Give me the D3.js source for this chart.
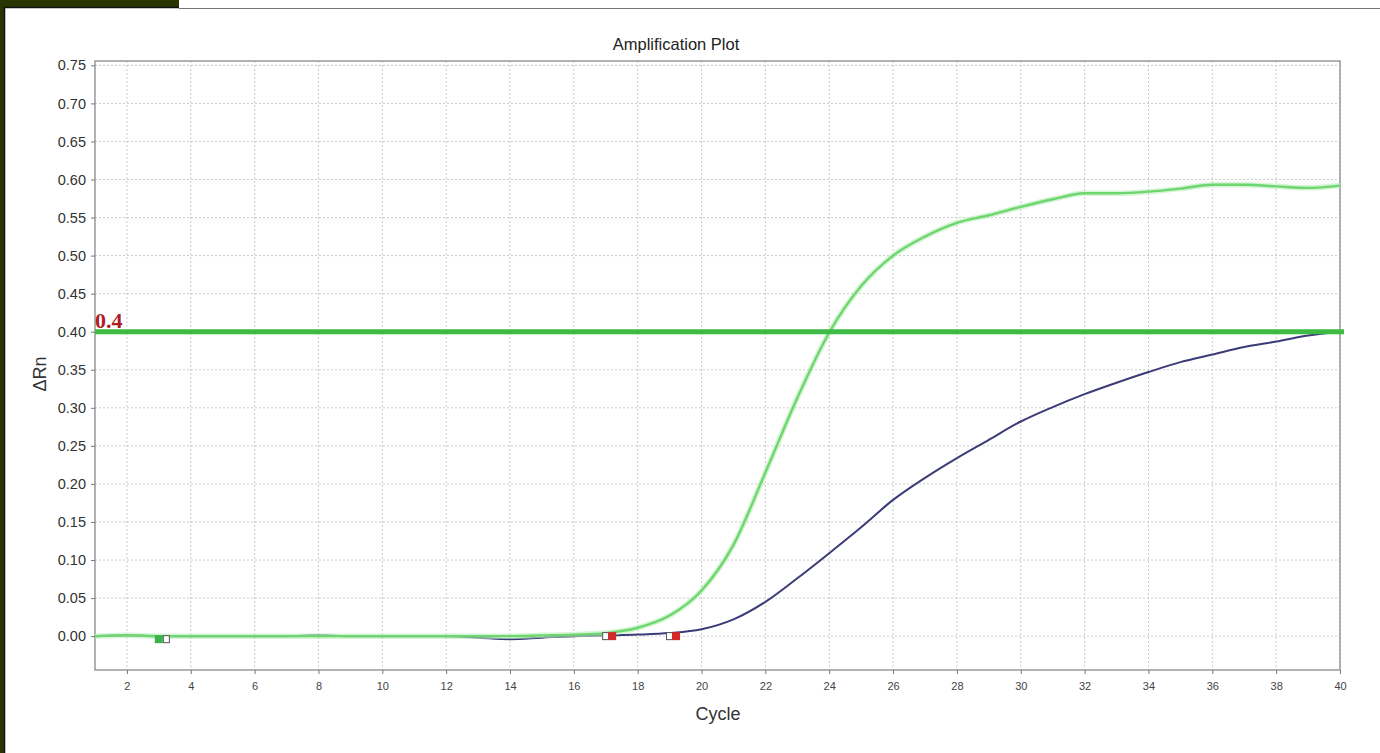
<!DOCTYPE html>
<html><head><meta charset="utf-8">
<script src="https://cdn.jsdelivr.net/npm/d3@7"></script>
<style>
html,body{margin:0;padding:0;background:#fff;}
svg{display:block;}
</style></head>
<body>
<svg id="chart" width="1380" height="753"></svg>
<script>
// ---- data ----
const cycles = d3.range(1, 41);
const greenValues = [0.000,0.001,0.000,0.000,0.000,0.000,0.000,0.000,0.000,0.000,
  0.000,0.000,0.000,0.000,0.001,0.002,0.004,0.011,0.027,0.060,
  0.120,0.215,0.313,0.399,0.460,0.500,0.525,0.543,0.553,0.564,
  0.574,0.582,0.582,0.584,0.588,0.593,0.593,0.591,0.589,0.592];
const blueValues = [0.000,0.001,0.000,0.000,0.000,0.000,0.000,0.001,0.000,0.000,
  0.000,0.000,-0.002,-0.004,-0.002,0.000,0.001,0.002,0.004,0.009,
  0.022,0.045,0.076,0.109,0.143,0.179,0.208,0.234,0.258,0.282,
  0.301,0.318,0.333,0.347,0.360,0.370,0.380,0.387,0.395,0.400];
const threshold = 0.4;
const thresholdLabel = "0.4";
const xTicks = d3.range(2, 41, 2);
const yTicks = d3.range(0, 0.7501, 0.05);
const markers = [
  {cycle: 3.0, value: -0.004, color: "#3cb34a", outline: "right"},
  {cycle: 17.2, value: 0.000, color: "#d42a2a", outline: "left"},
  {cycle: 19.2, value: 0.000, color: "#d42a2a", outline: "left"}
];
const title = "Amplification Plot";
const xLabel = "Cycle";
const yLabel = "ΔRn";

// ---- layout ----
const svg = d3.select("#chart");
const m = {left: 95, right: 1340, top: 61, bottom: 670};
const x = d3.scaleLinear().domain([1, 40]).range([m.left, m.right]);
const y = d3.scaleLinear().domain([-0.0445, 0.7557]).range([m.bottom, m.top]);
const sans = "Liberation Sans, Arial, sans-serif";

// outer frame
svg.append("rect").attr("x",0).attr("y",0).attr("width",1380).attr("height",753).attr("fill","#fff");
svg.append("rect").attr("x",0).attr("y",0).attr("width",4).attr("height",753).attr("fill","#2a3400");
svg.append("rect").attr("x",0).attr("y",0).attr("width",179).attr("height",7).attr("fill","#2a3400");
svg.append("line").attr("x1",4.5).attr("x2",4.5).attr("y1",7).attr("y2",753).attr("stroke","#111").attr("stroke-width",1.5);
svg.append("line").attr("x1",4).attr("x2",179).attr("y1",7.5).attr("y2",7.5).attr("stroke","#111").attr("stroke-width",1.5);
svg.append("line").attr("x1",179).attr("x2",1380).attr("y1",8.5).attr("y2",8.5).attr("stroke","#777").attr("stroke-width",1);

// grid
const grid = svg.append("g");
grid.selectAll(".vg").data(xTicks).join("line")
  .attr("x1", d=>x(d)).attr("x2", d=>x(d)).attr("y1", m.top).attr("y2", m.bottom)
  .attr("stroke","#cbcbcb").attr("stroke-width",1).attr("stroke-dasharray","2,2");
grid.selectAll(".hg").data(yTicks).join("line")
  .attr("x1", m.left).attr("x2", m.right).attr("y1", d=>y(d)).attr("y2", d=>y(d))
  .attr("stroke","#cbcbcb").attr("stroke-width",1).attr("stroke-dasharray","2,2");

// plot frame
svg.append("rect").attr("x",m.left).attr("y",m.top).attr("width",m.right-m.left).attr("height",m.bottom-m.top)
  .attr("fill","none").attr("stroke","#8a8a8a").attr("stroke-width",1.3);

// axes
const xAxis = svg.append("g").attr("transform",`translate(0,${m.bottom})`)
  .call(d3.axisBottom(x).tickValues(xTicks).tickSize(4).tickPadding(8).tickFormat(d3.format("d")));
const yAxis = svg.append("g").attr("transform",`translate(${m.left},0)`)
  .call(d3.axisLeft(y).tickValues(yTicks).tickSize(4).tickPadding(5).tickFormat(d3.format(".2f")));
[xAxis,yAxis].forEach(a=>{
  a.select(".domain").remove();
  a.selectAll(".tick line").attr("stroke","#777");
  a.selectAll("text").attr("fill","#333").style("font-family",sans);
});
xAxis.selectAll("text").style("font-size","11px").attr("fill","#444");
yAxis.selectAll("text").style("font-size","14.5px");

// titles
svg.append("text").attr("x",676).attr("y",50).attr("text-anchor","middle")
  .style("font-family",sans).style("font-size","16.5px").attr("fill","#222").text(title);
svg.append("text").attr("x",718).attr("y",720).attr("text-anchor","middle")
  .style("font-family",sans).style("font-size","18px").attr("fill","#333").text(xLabel);
svg.append("text").attr("transform","translate(46,374) rotate(-90)").attr("text-anchor","middle")
  .style("font-family",sans).style("font-size","18px").attr("fill","#333").text(yLabel);

// curves
const line = d3.line().x((d,i)=>x(cycles[i])).y(d=>y(d)).curve(d3.curveMonotoneX);
svg.append("path").datum(blueValues).attr("d",line).attr("fill","none")
  .attr("stroke","#3b3b78").attr("stroke-width",2);
svg.append("path").datum(greenValues).attr("d",line).attr("fill","none")
  .attr("stroke","#b8ecb8").attr("stroke-width",5.5).attr("opacity",0.6);
svg.append("path").datum(greenValues).attr("d",line).attr("fill","none")
  .attr("stroke","#6ed66e").attr("stroke-width",2.4);

// threshold
svg.append("line").attr("x1",x(1)).attr("x2",x(40)+4).attr("y1",y(threshold)).attr("y2",y(threshold))
  .attr("stroke","#3dbb45").attr("stroke-width",5);
svg.append("text").attr("x",x(1)).attr("y",y(threshold)-4)
  .style("font-family","Liberation Serif, Times New Roman, serif").style("font-weight","bold").style("font-size","22px")
  .attr("fill","#b01c24").text(thresholdLabel);

// markers (baseline start/end)
const mk = svg.append("g");
markers.forEach(d=>{
  const cx = x(d.cycle);
  const ox = d.outline === "left" ? cx - 10 : cx + 4;
  mk.append("rect").attr("x",ox+0.5).attr("y",y(d.value)-3.5).attr("width",6).attr("height",7)
    .attr("fill","#fff").attr("stroke","#555").attr("stroke-width",1);
  mk.append("rect").attr("x",cx-4).attr("y",y(d.value)-4).attr("width",8).attr("height",8)
    .attr("fill",d.color);
});
</script>
</body></html>
